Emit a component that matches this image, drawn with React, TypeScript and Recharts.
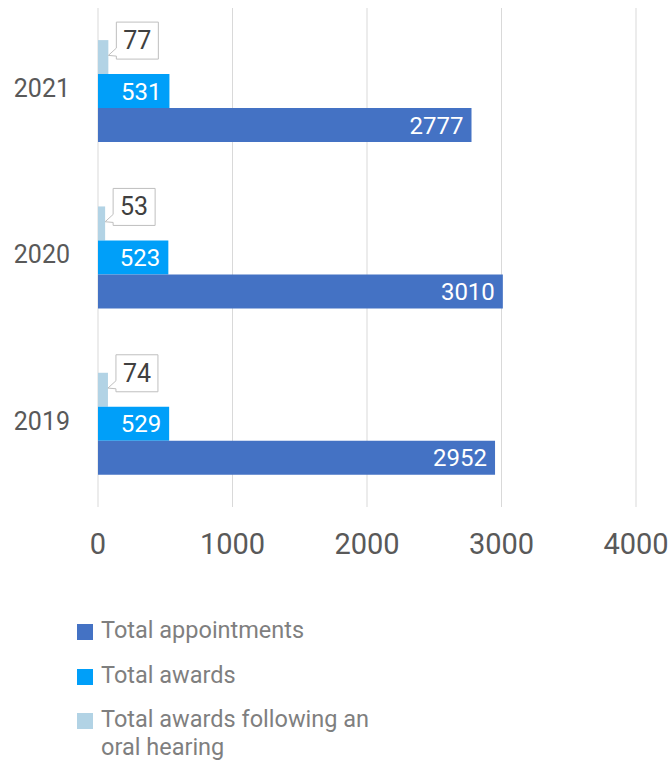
import { Bar, BarChart, CartesianGrid, LabelList, XAxis, YAxis } from "recharts";

const years = ["2021", "2020", "2019"];
const appointments = [2777, 3010, 2952];
const awards = [531, 523, 529];
const oralAwards = [77, 53, 74];
const xTicks = [0, 1000, 2000, 3000, 4000];

const COLORS = {
  appointments: "#4472c4",
  awards: "#009ff9",
  oral: "#b2d3e5",
};

const data = years.map((year, i) => ({
  year,
  appointments: appointments[i],
  awards: awards[i],
  oral: oralAwards[i],
}));

const legendItems = [
  { key: "appointments", label: "Total appointments" },
  { key: "awards", label: "Total awards" },
  { key: "oral", label: "Total awards following an oral hearing" },
];

// callout box label for the small bars
function Callout(props: any) {
  const { x, y, width, height, value } = props;
  const tipX = x + width;
  const tipY = y + height * 0.45;
  const left = tipX + 8;
  const top = y - 18;
  const w = 42;
  const h = 37;
  const bottom = top + h;
  const path = `M${left},${top} H${left + w} V${bottom} H${left} V${bottom - 3} L${tipX},${tipY} L${left},${bottom - 11} Z`;
  return (
    <g>
      <path d={path} fill="#fff" stroke="#bfbfbf" strokeWidth={1} />
      <text
        x={left + w / 2}
        y={top + h / 2}
        textAnchor="middle"
        dominantBaseline="central"
        fill="#404040"
        fontSize={25}
      >
        {value}
      </text>
    </g>
  );
}

export default function App() {
  return (
    <div
      style={{
        position: "absolute",
        left: 0,
        top: 0,
        width: 672,
        height: 761,
        fontFamily: "Roboto, sans-serif",
        background: "#fff",
      }}
    >
      <BarChart
        width={672}
        height={600}
        data={data}
        layout="vertical"
        margin={{ top: 8, right: 36, left: 0, bottom: 33 }}
        barCategoryGap="19.3%"
        barGap={0}
      >
        <CartesianGrid horizontal={false} stroke="#d9d9d9" />
        <XAxis
          type="number"
          domain={[0, 4000]}
          ticks={xTicks}
          axisLine={false}
          tickLine={false}
          tickSize={0}
          tickMargin={26}
          height={60}
          tick={{ fill: "#595959", fontSize: 29 }}
        />
        <YAxis
          type="category"
          dataKey="year"
          width={98}
          axisLine={false}
          tickLine={false}
          tickSize={0}
          tickMargin={28}
          tick={{ fill: "#595959", fontSize: 25, dy: -3 }}
        />
        <Bar dataKey="oral" fill={COLORS.oral} isAnimationActive={false}>
          <LabelList dataKey="oral" content={Callout} />
        </Bar>
        <Bar dataKey="awards" fill={COLORS.awards} isAnimationActive={false}>
          <LabelList
            dataKey="awards"
            position="insideRight"
            offset={8}
            fill="#fff"
            fontSize={24}
          />
        </Bar>
        <Bar
          dataKey="appointments"
          fill={COLORS.appointments}
          isAnimationActive={false}
        >
          <LabelList
            dataKey="appointments"
            position="insideRight"
            offset={8}
            fill="#fff"
            fontSize={24}
          />
        </Bar>
      </BarChart>
      <div style={{ position: "absolute", left: 77, top: 616 }}>
        {legendItems.map((item) => (
          <div
            key={item.key}
            style={{
              display: "flex",
              alignItems: "flex-start",
              marginBottom: 16.5,
              color: "#7f7f7f",
              fontSize: 23.5,
              lineHeight: "28px",
            }}
          >
            <span
              style={{
                width: 16,
                height: 16,
                marginTop: 8,
                marginRight: 8,
                flexShrink: 0,
                background: (COLORS as any)[item.key],
              }}
            />
            <span style={{ width: 290 }}>{item.label}</span>
          </div>
        ))}
      </div>
    </div>
  );
}
